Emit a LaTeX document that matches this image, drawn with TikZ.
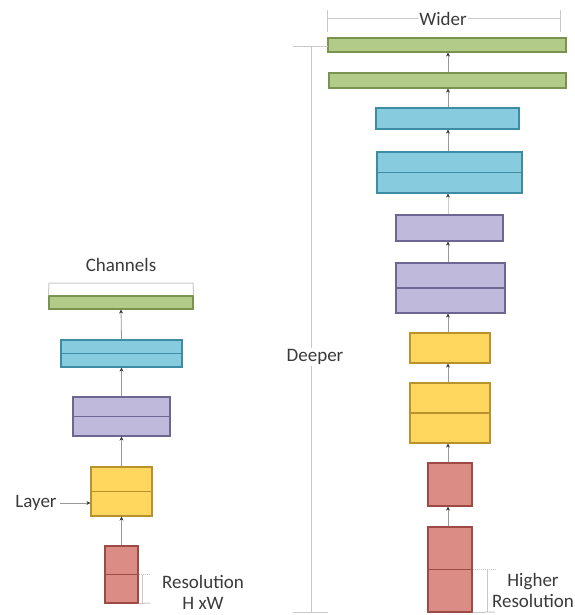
\documentclass[tikz,border=0pt]{standalone}
\usepackage{fontspec}
\setmainfont{Carlito}
\usetikzlibrary{arrows.meta}

\definecolor{gfill}{HTML}{B3CB88}\definecolor{gline}{HTML}{7A9450}
\definecolor{bfill}{HTML}{86CCDE}\definecolor{bline}{HTML}{3D8CA3}
\definecolor{pfill}{HTML}{BFB9DB}\definecolor{pline}{HTML}{6C6690}
\definecolor{yfill}{HTML}{FFD75E}\definecolor{yline}{HTML}{B8922A}
\definecolor{rfill}{HTML}{DA8C85}\definecolor{rline}{HTML}{9E4A44}
\definecolor{txt}{HTML}{3A3A3A}
\definecolor{brk}{HTML}{C8C8C8}

\tikzset{
  layerbox/.style 2 args={draw=#2, fill=#1, line width=1.1pt, inner sep=0pt},
  gbox/.style={layerbox={gfill}{gline}},
  bbox/.style={layerbox={bfill}{bline}},
  pbox/.style={layerbox={pfill}{pline}},
  ybox/.style={layerbox={yfill}{yline}},
  rbox/.style={layerbox={rfill}{rline}},
  sz/.style 2 args={minimum width=#1pt, minimum height=#2pt},
  flow/.style={draw=gray!80, line width=0.8pt,
    -{Stealth[length=4pt,width=4pt,color=black!80]}},
  bracket/.style={draw=brk, line width=1pt},
  label/.style={text=txt, font=\fontsize{19}{21}\selectfont, inner sep=1pt},
}

% horizontal divider through the middle of a layer block
\newcommand{\midline}[2]{\draw[#2, line width=1.4pt] (#1.west) -- (#1.east);}

\begin{document}
\begin{tikzpicture}[x=1pt, y=-1pt]
\useasboundingbox (0,0) rectangle (574,615);

% ---------- baseline network ----------
\node[gbox, sz={144}{13}] (lg) at (121,302.5) {};
\node[bbox, sz={121}{27}] (lb) at (121.5,353.5) {};
\node[pbox, sz={97}{39}]  (lp) at (121.5,416.5) {};
\node[ybox, sz={61}{49}]  (ly) at (121.5,491.5) {};
\node[rbox, sz={33}{57}]  (lr) at (121.5,574.5) {};
\midline{lb}{bline}
\midline{lp}{pline}
\midline{ly}{yline}
\midline{lr}{rline}

\draw[flow] (lr.north) -- (ly.south);
\draw[flow] (ly.north) -- (lp.south);
\draw[flow] (lp.north) -- (lb.south);
\draw[flow] (lb.north) -- (lg.south);

% channels bracket
\coordinate (cl) at (49,283);
\coordinate (cr) at (193,283);
\draw[bracket] (lg.north west) -- (cl) -- (cr) -- (lg.north east);
\node[label] (chan) at (121,265) {Channels};

% layer pointer
\node[label] (layer) at (36,503) {Layer};
\draw[flow] (layer.east) ++(2,0) coordinate (la) (la) -- (ly.west |- la);

% resolution bracket
\coordinate (rs1) at (150,574.5);
\coordinate (rs2) at (142,574.5);
\coordinate (rs3) at (142,603);
\coordinate (rs4) at (150,603);
\draw[bracket, densely dotted] (lr.east) -- (rs1);
\draw[bracket] (rs2) -- (rs3);
\draw[bracket] (lr.south east) -- (rs4);
\node[label, align=center] (res) at (203,592) {Resolution\\H xW};

% ---------- scaled network ----------
\node[gbox, sz={238}{14}] (rg1) at (447,45) {};
\node[gbox, sz={237}{15}] (rg2) at (447.5,80.5) {};
\node[bbox, sz={143}{21}] (rb1) at (447.5,118.5) {};
\node[bbox, sz={145}{41}] (rb2) at (449.5,172.5) {};
\node[pbox, sz={107}{26}] (rp1) at (449.5,228) {};
\node[pbox, sz={109}{50}] (rp2) at (450.5,288) {};
\node[ybox, sz={80}{30}]  (ry1) at (450,348) {};
\node[ybox, sz={80}{60}]  (ry2) at (450,413) {};
\node[rbox, sz={44}{43}]  (rr1) at (450,484.5) {};
\node[rbox, sz={44}{85}]  (rr2) at (450,569.5) {};
\midline{rb2}{bline}
\midline{rp2}{pline}
\midline{ry2}{yline}
\midline{rr2}{rline}

\coordinate (ax) at (448,0);
\draw[flow] (ax |- rr2.north) -- (ax |- rr1.south);
\draw[flow] (ax |- rr1.north) -- (ax |- ry2.south);
\draw[flow] (ax |- ry2.north) -- (ax |- ry1.south);
\draw[flow] (ax |- ry1.north) -- (ax |- rp2.south);
\draw[flow] (ax |- rp2.north) -- (ax |- rp1.south);
\draw[flow, draw=gray!40] (ax |- rp1.north) -- (ax |- rb2.south);
\draw[flow] (ax |- rb2.north) -- (ax |- rb1.south);
\draw[flow] (ax |- rb1.north) -- (ax |- rg2.south);
\draw[flow] (ax |- rg2.north) -- (ax |- rg1.south);

% wider bracket
\coordinate (w1) at (327,10);
\coordinate (w2) at (327,32);
\coordinate (w3) at (560,10);
\coordinate (w4) at (560,32);
\coordinate (wl) at (327,19);
\coordinate (wr) at (560,19);
\draw[bracket] (w1) -- (w2);
\draw[bracket] (w3) -- (w4);
\draw[bracket] (wl) -- (wr);
\node[label, fill=white] (wider) at (443,19) {Wider};

% deeper bracket
\coordinate (d1) at (293,47);
\coordinate (d2) at (328,47);
\coordinate (d3) at (311,47);
\coordinate (d4) at (311,612);
\coordinate (d5) at (293,612);
\coordinate (d6) at (328,612);
\draw[bracket] (d1) -- (d2);
\draw[bracket] (d3) -- (d4);
\draw[bracket] (d5) -- (d6);
\node[label, fill=white] (deeper) at (315,357) {Deeper};

% higher resolution bracket
\coordinate (h1) at (495,569.5);
\coordinate (h2) at (487,569.5);
\coordinate (h3) at (487,612);
\coordinate (h4) at (495,612);
\draw[bracket, densely dotted] (rr2.east) -- (h1);
\draw[bracket] (h2) -- (h3);
\draw[bracket] (rr2.south east) -- (h4);
\node[label, align=center] (hres) at (533,590) {Higher\\Resolution};
\end{tikzpicture}
\end{document}
